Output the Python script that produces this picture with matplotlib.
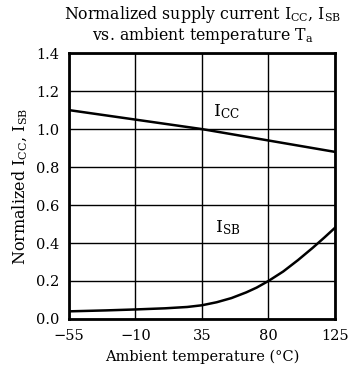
import matplotlib
matplotlib.use("Agg")
import matplotlib.pyplot as plt

temp_icc = [-55, 35, 125]
icc = [1.10, 1.00, 0.88]

temp_isb = [-55, -30, -10, 10, 25, 35, 45, 55, 65, 72, 80, 90, 100, 110, 118, 125]
isb = [0.040, 0.045, 0.050, 0.056, 0.063, 0.072, 0.088, 0.11, 0.14, 0.165, 0.20, 0.25, 0.31, 0.375, 0.43, 0.48]

x_ticks = [-55, -10, 35, 80, 125]
y_ticks = [0.0, 0.2, 0.4, 0.6, 0.8, 1.0, 1.2, 1.4]

plt.rcParams['font.family'] = ['DejaVu Serif']
plt.rcParams['mathtext.fontset'] = 'dejavuserif'

fig = plt.figure(figsize=(3.5, 3.77), dpi=100)
ax = fig.add_axes([0.197, 0.154, 0.76, 0.705])

ax.plot(temp_icc, icc, color='black', lw=1.8)
ax.plot(temp_isb, isb, color='black', lw=1.8)

ax.set_xlim(-55, 125)
ax.set_ylim(0, 1.4)
ax.set_xticks(x_ticks)
ax.set_xticklabels(['\u221255', '\u221210', '35', '80', '125'])
ax.set_yticks(y_ticks)
ax.set_yticklabels([f'{v:.1f}' for v in y_ticks])
ax.tick_params(length=0, labelsize=10.5, pad=7)
ax.grid(True, color='black', lw=1.0)
for s in ax.spines.values():
    s.set_linewidth(2.0)

ax.text(42.5, 1.065, r'I$_{\mathrm{CC}}$', fontsize=12.5)
ax.text(44, 0.455, r'I$_{\mathrm{SB}}$', fontsize=12.5)

ax.set_xlabel('Ambient temperature (\u00b0C)', fontsize=10.5, labelpad=5)
ax.set_ylabel(r'Normalized I$_{\mathrm{CC}}$, I$_{\mathrm{SB}}$', fontsize=11.5, labelpad=4)
fig.text(0.578, 0.934, 'Normalized supply current I$_{\\mathrm{CC}}$, I$_{\\mathrm{SB}}$\nvs. ambient temperature T$_{\\mathrm{a}}$',
         ha='center', va='center', fontsize=11.3, linespacing=1.05)

fig.savefig('out.png', dpi=100)
